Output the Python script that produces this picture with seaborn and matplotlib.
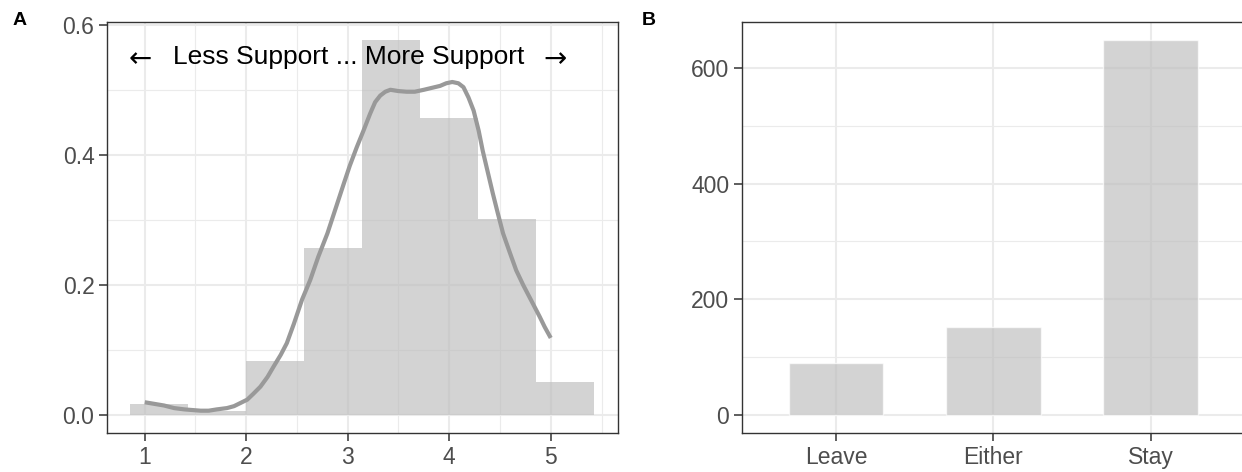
import matplotlib
matplotlib.use("Agg")
import matplotlib.pyplot as plt
from matplotlib.ticker import FixedLocator
import seaborn as sns

# ---------------- data ----------------
# Panel A: histogram (density) of support scores
bin_edges = [0.857, 1.429, 2.0, 2.571, 3.143, 3.714, 4.286, 4.857, 5.429]
bin_density = [0.016, 0.005, 0.083, 0.257, 0.576, 0.456, 0.301, 0.050]

# Panel A: density curve
curve_x = [1.00, 1.19, 1.29, 1.39, 1.55, 1.63, 1.71, 1.81, 1.88, 2.01, 2.07,
           2.14, 2.21, 2.27, 2.34, 2.40, 2.47, 2.55, 2.63, 2.71, 2.80, 2.88,
           2.96, 3.02, 3.09, 3.155, 3.22, 3.27, 3.32, 3.37, 3.42, 3.50, 3.58,
           3.66, 3.75, 3.83, 3.91, 3.97, 4.03, 4.09, 4.14, 4.19, 4.24, 4.29,
           4.33, 4.38, 4.43, 4.48, 4.53, 4.60, 4.66, 4.73, 4.79, 4.84, 4.89,
           4.94, 5.00]
curve_y = [0.019, 0.014, 0.010, 0.008, 0.006, 0.006, 0.008, 0.010, 0.013, 0.023, 0.032,
           0.043, 0.058, 0.074, 0.092, 0.110, 0.140, 0.177, 0.207, 0.243, 0.279, 0.317,
           0.355, 0.383, 0.412, 0.437, 0.463, 0.481, 0.491, 0.497, 0.500, 0.498, 0.497,
           0.497, 0.500, 0.503, 0.506, 0.510, 0.512, 0.510, 0.504, 0.488, 0.468, 0.437,
           0.406, 0.373, 0.340, 0.309, 0.279, 0.248, 0.222, 0.199, 0.181, 0.166, 0.151,
           0.135, 0.118]

annotation_text = "Less Support ... More Support"
arrow_left = "\u2190"
arrow_right = "\u2192"

# Panel B: counts
categories = ["Leave", "Either", "Stay"]
counts = [90, 151, 648]

a_xticks = [1, 2, 3, 4, 5]
a_yticks = [0.0, 0.2, 0.4, 0.6]
a_yticklabels = ["0.0", "0.2", "0.4", "0.6"]
b_yticks = [0, 200, 400, 600]

# ---------------- style ----------------
sns.set_theme(style="white")
plt.rcParams["font.family"] = ["Liberation Sans", "DejaVu Sans"]

W, H = 1242, 472
fig = plt.figure(figsize=(W / 100, H / 100), dpi=100)

grid_major = "#ebebeb"
tick_col = "#333333"
lab_col = "#4d4d4d"
bar_col = "#bebebe"
bar_alpha = 0.68
line_col = "#999999"
tick_fs = 16.5


def style_axes(ax):
    for s in ax.spines.values():
        s.set_color(tick_col)
        s.set_linewidth(1.0)
        s.set_visible(True)
    ax.set_axisbelow(True)
    ax.grid(which="major", color=grid_major, linewidth=1.5)
    ax.grid(which="minor", color=grid_major, linewidth=0.8)
    ax.tick_params(which="major", length=6, width=1.1, color=tick_col,
                   labelcolor=lab_col, labelsize=tick_fs, pad=3,
                   bottom=True, left=True)
    ax.tick_params(which="minor", length=0)
    ax.set_xlabel("")
    ax.set_ylabel("")


# ---------------- Panel A ----------------
axA = fig.add_axes([107 / W, 1 - 433.3 / H, 510.5 / W, (433.3 - 21.7) / H])
mids = [(bin_edges[i] + bin_edges[i + 1]) / 2 for i in range(len(bin_density))]
sns.histplot(x=mids, weights=bin_density, bins=bin_edges, stat="count",
             color=bar_col, alpha=bar_alpha, linewidth=0, ax=axA, zorder=2)
sns.lineplot(x=curve_x, y=curve_y, color=line_col, linewidth=3.0, ax=axA,
             sort=False, zorder=3, solid_capstyle="butt", solid_joinstyle="round")
rng = bin_edges[-1] - bin_edges[0]
axA.set_xlim(bin_edges[0] - 0.05 * rng, bin_edges[-1] + 0.05 * rng)
ymax = max(bin_density)
axA.set_ylim(-0.05 * ymax, ymax * 1.05)
axA.xaxis.set_major_locator(FixedLocator(a_xticks))
axA.xaxis.set_minor_locator(FixedLocator([1.5, 2.5, 3.5, 4.5, 5.5]))
axA.yaxis.set_major_locator(FixedLocator(a_yticks))
axA.set_yticklabels(a_yticklabels)
axA.yaxis.set_minor_locator(FixedLocator([0.1, 0.3, 0.5]))
style_axes(axA)
axA.text(3.01, 0.55, annotation_text, ha="center", va="center",
         fontsize=19, color="black", zorder=4)
axA.text(0.96, 0.547, arrow_left, ha="center", va="center", fontsize=20,
         family=["DejaVu Sans"], color="black", zorder=4)
axA.text(5.04, 0.547, arrow_right, ha="center", va="center", fontsize=20,
         family=["DejaVu Sans"], color="black", zorder=4)

# ---------------- Panel B ----------------
axB = fig.add_axes([741.8 / W, 1 - 433.3 / H, (1245 - 741.8) / W, (433.3 - 21.7) / H])
sns.barplot(x=categories, y=counts, color=bar_col, alpha=bar_alpha,
            saturation=1, width=0.6, ax=axB, zorder=2)
axB.set_xlim(-0.6, 2.6)
cmax = max(counts)
axB.set_ylim(-0.05 * cmax, cmax * 1.05)
axB.yaxis.set_major_locator(FixedLocator(b_yticks))
axB.yaxis.set_minor_locator(FixedLocator([100, 300, 500]))
style_axes(axB)

# ---------------- panel tags ----------------
fig.text(13 / W, 1 - 20.5 / H, "A", fontsize=14, fontweight="bold",
         ha="left", va="center", color="black")
fig.text(641.7 / W, 1 - 20.5 / H, "B", fontsize=14, fontweight="bold",
         ha="left", va="center", color="black")

fig.savefig("out.png", dpi=100)
